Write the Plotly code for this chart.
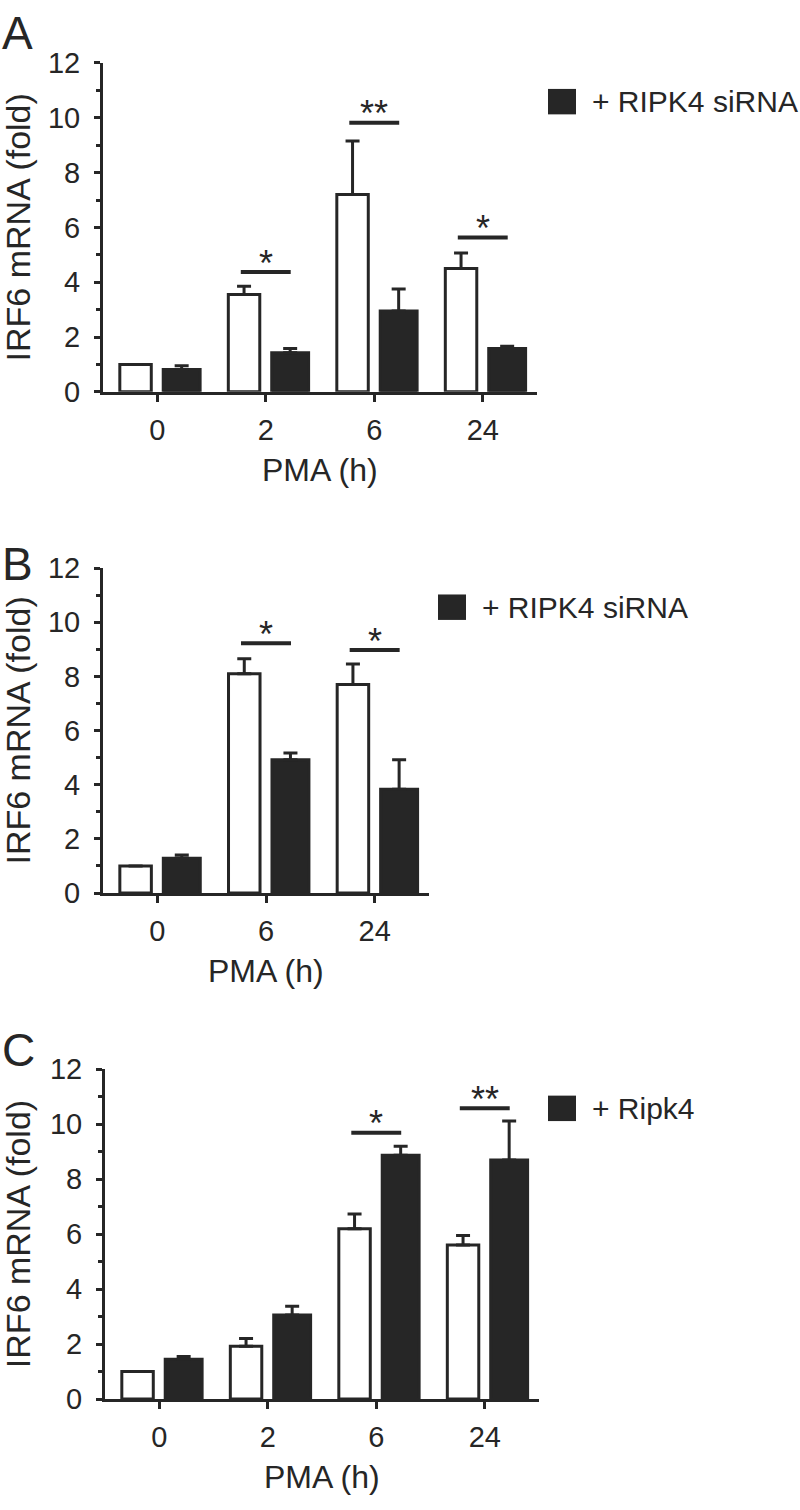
import plotly.graph_objects as go

W, H = 800, 1510
DARK = "#262626"
FONT = "Liberation Sans, Arial, sans-serif"

# ---- data ----
a_times = ["0", "2", "6", "24"]
a_ctrl = [1.0, 3.55, 7.2, 4.5]
a_ctrl_err = [0, 0.3, 1.95, 0.57]
a_treat = [0.82, 1.43, 2.95, 1.58]
a_treat_err = [0.13, 0.15, 0.8, 0.08]
a_sig_idx = [1, 2, 3]
a_sig_y = [4.37, 9.82, 5.63]
a_sig_txt = ["*", "**", "*"]
a_legend = "+ RIPK4 siRNA"

b_times = ["0", "6", "24"]
b_ctrl = [1.0, 8.1, 7.7]
b_ctrl_err = [0, 0.55, 0.76]
b_treat = [1.28, 4.92, 3.83]
b_treat_err = [0.12, 0.25, 1.09]
b_sig_idx = [1, 2]
b_sig_y = [9.22, 8.97]
b_sig_txt = ["*", "*"]
b_legend = "+ RIPK4 siRNA"

c_times = ["0", "2", "6", "24"]
c_ctrl = [1.0, 1.92, 6.2, 5.6]
c_ctrl_err = [0, 0.28, 0.53, 0.35]
c_treat = [1.45, 3.06, 8.87, 8.7]
c_treat_err = [0.1, 0.32, 0.33, 1.42]
c_sig_idx = [2, 3]
c_sig_y = [9.69, 10.58]
c_sig_txt = ["*", "**"]
c_legend = "+ Ripk4"

y_title = "IRF6 mRNA (fold)"
x_title = "PMA (h)"


def px(x):
    return x / W


def py(y):
    return 1 - y / H


# panel geometry in pixels: x of y-axis, x of right end, y of value 12, y of value 0
panels = [
    dict(letter="A", cats=a_times, ctrl=a_ctrl, ctrl_err=a_ctrl_err, treat=a_treat, treat_err=a_treat_err,
         sig_idx=a_sig_idx, sig_y=a_sig_y, sig_txt=a_sig_txt, legend=a_legend,
         x0=103, x1=537, top=48, bot=384, letter_y=17, leg=(548, 87.5)),
    dict(letter="B", cats=b_times, ctrl=b_ctrl, ctrl_err=b_ctrl_err, treat=b_treat, treat_err=b_treat_err,
         sig_idx=b_sig_idx, sig_y=b_sig_y, sig_txt=b_sig_txt, legend=b_legend,
         x0=103, x1=429, top=564, bot=896, letter_y=560, leg=(438, 604)),
    dict(letter="C", cats=c_times, ctrl=c_ctrl, ctrl_err=c_ctrl_err, treat=c_treat, treat_err=c_treat_err,
         sig_idx=c_sig_idx, sig_y=c_sig_y, sig_txt=c_sig_txt, legend=c_legend,
         x0=105, x1=539, top=1076, bot=1413, letter_y=1056, leg=(548, 1116)),
]

fig = go.Figure()
shapes = []
annotations = []
layout_axes = {}

for i, p in enumerate(panels, start=1):
    xa = "x" if i == 1 else f"x{i}"
    ya = "y" if i == 1 else f"y{i}"
    n = len(p["cats"])

    fig.add_trace(go.Bar(
        x=p["cats"], y=p["ctrl"], xaxis=xa, yaxis=ya,
        offset=-0.345, width=0.29,
        marker=dict(color="white", line=dict(color=DARK, width=3)),
        error_y=dict(type="data", array=p["ctrl_err"], arrayminus=[0] * n, symmetric=False,
                     color=DARK, thickness=3, width=7),
        showlegend=False,
    ))
    fig.add_trace(go.Bar(
        x=p["cats"], y=p["treat"], xaxis=xa, yaxis=ya,
        offset=0.055, width=0.34,
        marker=dict(color=DARK, line=dict(color=DARK, width=3)),
        error_y=dict(type="data", array=p["treat_err"], arrayminus=[0] * n, symmetric=False,
                     color=DARK, thickness=3, width=7),
        name=p["legend"], showlegend=False,
    ))

    # significance bars
    for idx, yv, txt in zip(p["sig_idx"], p["sig_y"], p["sig_txt"]):
        shapes.append(dict(type="line", xref=xa, yref=ya, x0=idx - 0.23, x1=idx + 0.23, y0=yv, y1=yv,
                           line=dict(color=DARK, width=4)))
        annotations.append(dict(xref=xa, yref=ya, x=idx, y=yv, text=txt, showarrow=False,
                                yanchor="middle", yshift=9, font=dict(size=36, color=DARK, family=FONT)))

    xd = [px(p["x0"]), px(p["x1"])]
    yd = [py(p["bot"]), py(p["top"])]
    layout_axes["xaxis" if i == 1 else f"xaxis{i}"] = dict(
        domain=xd, anchor=ya, type="category", categoryorder="array", categoryarray=p["cats"],
        range=[-0.5, n - 0.5], showline=True, linecolor=DARK, linewidth=3,
        ticks="outside", ticklen=7, tickwidth=3, tickcolor=DARK,
        showgrid=False, zeroline=False, tickfont=dict(size=29, color=DARK, family=FONT),
        ticklabelstandoff=3,
    )
    layout_axes["yaxis" if i == 1 else f"yaxis{i}"] = dict(
        domain=yd, anchor=xa, range=[0, 12], tick0=0, dtick=2,
        showline=True, linecolor=DARK, linewidth=3,
        ticks="outside", ticklen=6, tickwidth=3, tickcolor=DARK,
        minor=dict(dtick=1, ticks="outside", ticklen=4, tickwidth=3, tickcolor=DARK, showgrid=False),
        showgrid=False, zeroline=False, tickfont=dict(size=29, color=DARK, family=FONT),
        ticklabelstandoff=8,
    )

    # axis titles
    annotations.append(dict(xref="paper", yref="paper", x=px(18), y=py((p["top"] + p["bot"]) / 2),
                            text=y_title, textangle=-90, showarrow=False,
                            xanchor="center", yanchor="middle", font=dict(size=34, color=DARK, family=FONT)))
    annotations.append(dict(xref="paper", yref="paper", x=px((p["x0"] + p["x1"]) / 2), y=py(p["bot"] + 80),
                            text=x_title, showarrow=False,
                            xanchor="center", yanchor="middle", font=dict(size=32, color=DARK, family=FONT)))
    # panel letter
    annotations.append(dict(xref="paper", yref="paper", x=px(0), y=py(p["letter_y"]),
                            text=p["letter"], showarrow=False,
                            xanchor="left", yanchor="middle", font=dict(size=46, color=DARK, family=FONT)))
    # legend key
    lx, ly = p["leg"]
    shapes.append(dict(type="rect", xref="paper", yref="paper",
                       x0=px(lx), x1=px(lx + 28), y0=py(ly + 13), y1=py(ly - 13),
                       fillcolor=DARK, line=dict(width=0)))
    annotations.append(dict(xref="paper", yref="paper", x=px(lx + 42), y=py(ly),
                            text=p["legend"], showarrow=False,
                            xanchor="left", yanchor="middle", font=dict(size=30, color=DARK, family=FONT)))

fig.update_layout(
    width=W, height=H,
    margin=dict(l=0, r=0, t=0, b=0),
    paper_bgcolor="white", plot_bgcolor="white",
    barmode="overlay",
    shapes=shapes, annotations=annotations,
    font=dict(family=FONT, color=DARK),
    **layout_axes,
)

# the page body has an 8px default margin; drop it so the figure sits at the window's corner
fig.write_html("out.html", config={"displayModeBar": False},
               post_script="document.body.style.margin = '0px';")
